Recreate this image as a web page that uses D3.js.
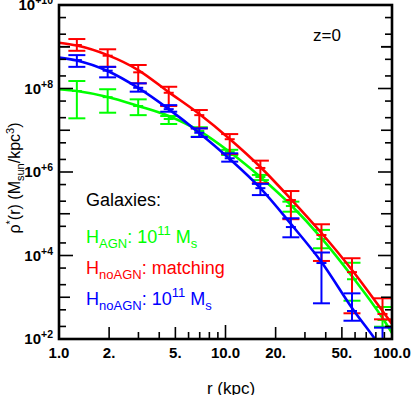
<!DOCTYPE html>
<html>
<head>
<meta charset="utf-8">
<script src="https://cdn.jsdelivr.net/npm/d3@7"></script>
<style>
    body {margin: 0; background: #fff;}
    svg {display: block;}
    text {font-family: "Liberation Sans", Arial, Helvetica, sans-serif;}
</style>
</head>
<body>
<div id="chart"></div>
<script>
// radial bins (kpc) of the measured points
const radii = [1.28, 1.96, 2.99, 4.56, 6.96, 10.6, 16.2, 24.7, 37.7, 57.5, 87.7];
// radii where the fitted curves are read (edges + bins)
const fitRadii = [1.0, 1.28, 1.96, 2.99, 4.56, 6.96, 10.6, 16.2, 24.7, 37.7, 57.5, 87.7, 100];

// H_AGN, 10^11 Ms (green)
const agnVal = [8.7e7, 6.2e7, 3.8e7, 1.86e7, 9.6e6, 3.0e6, 7.6e5, 1.53e5, 2.48e4, 2.7e3, 285];
const agnHi = [1.51e8, 9.6e7, 5.5e7, 2.19e7, 1.18e7, 3.4e6, 8.5e5, 1.95e5, 4.1e4, 6.7e3, 584];
const agnLo = [1.93e7, 2.63e7, 2.3e7, 1.41e7, 7.0e6, 2.55e6, 6.4e5, 1.12e5, 1.49e4, 826, 197];
const agnFit = [9.6e7, 8.7e7, 6.25e7, 3.8e7, 2.19e7, 9.6e6, 3.0e6, 7.6e5, 1.62e5, 2.62e4, 3.2e3, 318, 139];

// H_noAGN, matching (red)
const matchVal = [1.10e9, 6.1e8, 2.44e8, 7.9e7, 2.3e7, 6.1e6, 1.25e6, 2.13e5, 3.1e4, 4.0e3, 397];
const matchHi = [1.53e9, 8.7e8, 3.66e8, 1.10e8, 3.05e7, 8.1e6, 1.87e6, 3.5e5, 5.6e4, 8.6e3, 944];
const matchLo = [8.0e8, 3.3e8, 1.33e8, 3.8e7, 1.11e7, 2.7e6, 5.4e5, 7.4e4, 7.4e3, 413, 296];
const matchFit = [1.25e9, 1.07e9, 6.3e8, 2.77e8, 8.2e7, 2.45e7, 6.2e6, 1.32e6, 2.25e5, 3.46e4, 4.5e3, 469, 229];

// H_noAGN, 10^11 Ms (blue)
const noagnVal = [4.8e8, 2.67e8, 1.04e8, 3.2e7, 8.7e6, 2.13e6, 4.1e5, 4.8e4, 6.6e3, 469, 60];
const noagnHi = [6.3e8, 3.3e8, 1.33e8, 4.0e7, 1.11e7, 2.8e6, 5.2e5, 7.8e4, 1.18e4, 1.24e3, 187];
const noagnLo = [3.3e8, 1.85e8, 8.4e7, 2.78e7, 6.9e6, 1.77e6, 2.8e5, 2.73e4, 716, 274, 10];
const noagnFit = [5.5e8, 4.7e8, 2.62e8, 1.03e8, 3.2e7, 8.6e6, 2.05e6, 4.1e5, 5.7e4, 7.0e3, 553, 55, 24];

const xTickLabels = ["1.0", "2.", "5.", "10.0", "20.", "50.", "100.0"];
const xLabelVals = [1, 2, 5, 10, 20, 50, 100];
const yLabelPowers = [2, 4, 6, 8, 10];

const size = {width: 415, height: 395};
const margin = {top: 5, right: 23, bottom: 56, left: 59};
const width = size.width - margin.left - margin.right;
const height = size.height - margin.top - margin.bottom;

const svg = d3.select("#chart").append("svg")
    .attr("width", size.width)
    .attr("height", size.height);
const g = svg.append("g")
    .attr("transform", "translate(" + margin.left + "," + margin.top + ")");

const x = d3.scaleLog().domain([1, 100]).range([0, width]);
const y = d3.scaleLog().domain([1e2, 1e10]).range([height, 0]);

g.append("clipPath").attr("id", "plotClip")
    .append("rect").attr("width", width).attr("height", height);

const series = [
    {color: "#00ff00", val: agnVal, hi: agnHi, lo: agnLo, fit: agnFit},
    {color: "#ff0000", val: matchVal, hi: matchHi, lo: matchLo, fit: matchFit},
    {color: "#0000ff", val: noagnVal, hi: noagnHi, lo: noagnLo, fit: noagnFit}
];

const dataG = g.append("g").attr("clip-path", "url(#plotClip)");
const line = d3.line().x(d => x(d[0])).y(d => y(d[1])).curve(d3.curveMonotoneX);
const capW = 8.5;

series.forEach(s => {
    const sg = dataG.append("g").attr("stroke", s.color).attr("fill", "none");
    sg.append("path")
        .attr("d", line(fitRadii.map((r, i) => [r, s.fit[i]])))
        .attr("stroke-width", 2.6);
    const pts = radii.map((r, i) => ({r: r, v: s.val[i], hi: s.hi[i], lo: s.lo[i]}));
    const bars = sg.selectAll("g.bar").data(pts).join("g").attr("class", "bar")
        .attr("stroke-width", 2);
    bars.append("line")
        .attr("x1", d => x(d.r)).attr("x2", d => x(d.r))
        .attr("y1", d => y(d.hi)).attr("y2", d => y(d.lo));
    bars.append("line")
        .attr("x1", d => x(d.r) - capW).attr("x2", d => x(d.r) + capW)
        .attr("y1", d => y(d.hi)).attr("y2", d => y(d.hi));
    bars.append("line")
        .attr("x1", d => x(d.r) - capW).attr("x2", d => x(d.r) + capW)
        .attr("y1", d => y(d.lo)).attr("y2", d => y(d.lo));
    // plus marker at the point
    bars.append("line")
        .attr("x1", d => x(d.r) - 5).attr("x2", d => x(d.r) + 5)
        .attr("y1", d => y(d.v)).attr("y2", d => y(d.v));
});

// frame
g.append("rect")
    .attr("width", width).attr("height", height)
    .attr("fill", "none").attr("stroke", "#000").attr("stroke-width", 2.6);

// x ticks (bottom only)
const xTicks = [];
[1, 10].forEach(dec => d3.range(2, 10).forEach(k => xTicks.push(dec * k)));
xTicks.push(10);
const axG = g.append("g").attr("stroke", "#000").attr("stroke-width", 1.6);
axG.selectAll("line.xt").data(xTicks).join("line").attr("class", "xt")
    .attr("x1", d => x(d)).attr("x2", d => x(d))
    .attr("y1", height)
    .attr("y2", d => height - (d === 10 ? 14 : (d === 2 || d === 5 || d === 20 || d === 50) ? 12 : 7));

// y ticks, left and right
const yTicks = [];
d3.range(2, 10).forEach(p => {
    yTicks.push({v: Math.pow(10, p) * 2, len: 7});
    yTicks.push({v: Math.pow(10, p) * 5, len: 7});
    if (p > 2) yTicks.push({v: Math.pow(10, p), len: p % 2 === 0 ? 14 : 11});
});
yTicks.push({v: 1e9, len: 11});
axG.selectAll("line.yl").data(yTicks).join("line").attr("class", "yl")
    .attr("x1", 0).attr("x2", d => d.len)
    .attr("y1", d => y(d.v)).attr("y2", d => y(d.v));
axG.selectAll("line.yr").data(yTicks).join("line").attr("class", "yr")
    .attr("x1", width).attr("x2", d => width - d.len)
    .attr("y1", d => y(d.v)).attr("y2", d => y(d.v));

// tick labels
g.selectAll("text.xl").data(xLabelVals).join("text").attr("class", "xl")
    .attr("x", d => x(d)).attr("y", height + 19)
    .attr("text-anchor", "middle")
    .attr("font-size", 15).attr("font-weight", "bold")
    .text((d, i) => xTickLabels[i]);

const yl = g.selectAll("text.yl").data(yLabelPowers).join("text").attr("class", "yl")
    .attr("x", -6).attr("y", d => y(Math.pow(10, d)) + 5)
    .attr("text-anchor", "end")
    .attr("font-size", 15).attr("font-weight", "bold");
yl.append("tspan").text("10");
yl.append("tspan").attr("font-size", 10.5).attr("dy", -6).text(d => "+" + d);

// axis titles
svg.append("text")
    .attr("x", 231).attr("y", 394)
    .attr("text-anchor", "middle").attr("font-size", 17)
    .text("r (kpc)");

const yt = svg.append("text")
    .attr("transform", "translate(20,178) rotate(-90)")
    .attr("text-anchor", "middle").attr("font-size", 16);
yt.append("tspan").text("ρ");
yt.append("tspan").attr("font-size", 11).attr("dy", -6).text("*");
yt.append("tspan").attr("dy", 6).text("(r) (M");
yt.append("tspan").attr("font-size", 11).attr("dy", 4).text("sun");
yt.append("tspan").attr("dy", -4).text("/kpc");
yt.append("tspan").attr("font-size", 11).attr("dy", -6).text("3");
yt.append("tspan").attr("dy", 6).text(")");

// annotations
svg.append("text").attr("x", 313).attr("y", 41).attr("font-size", 17).text("z=0");

const legend = [
    {color: "#000", y: 206, parts: [["Galaxies:", 0]]},
    {color: "#00ff00", y: 243, parts: [["H", 0], ["AGN", 1], [": 10", 0], ["11", 2], [" M", 0], ["s", 1]]},
    {color: "#ff0000", y: 274, parts: [["H", 0], ["noAGN", 1], [": matching", 0]]},
    {color: "#0000ff", y: 305, parts: [["H", 0], ["noAGN", 1], [": 10", 0], ["11", 2], [" M", 0], ["s", 1]]}
];
legend.forEach(l => {
    const t = svg.append("text").attr("x", 86).attr("y", l.y)
        .attr("fill", l.color).attr("font-size", 18);
    let prev = 0;
    l.parts.forEach(p => {
        const shift = p[1] === 1 ? 5 : p[1] === 2 ? -8 : 0;
        t.append("tspan")
            .attr("dy", shift - prev)
            .attr("font-size", p[1] ? 13 : 18)
            .text(p[0]);
        prev = shift;
    });
});
</script>
</body>
</html>
